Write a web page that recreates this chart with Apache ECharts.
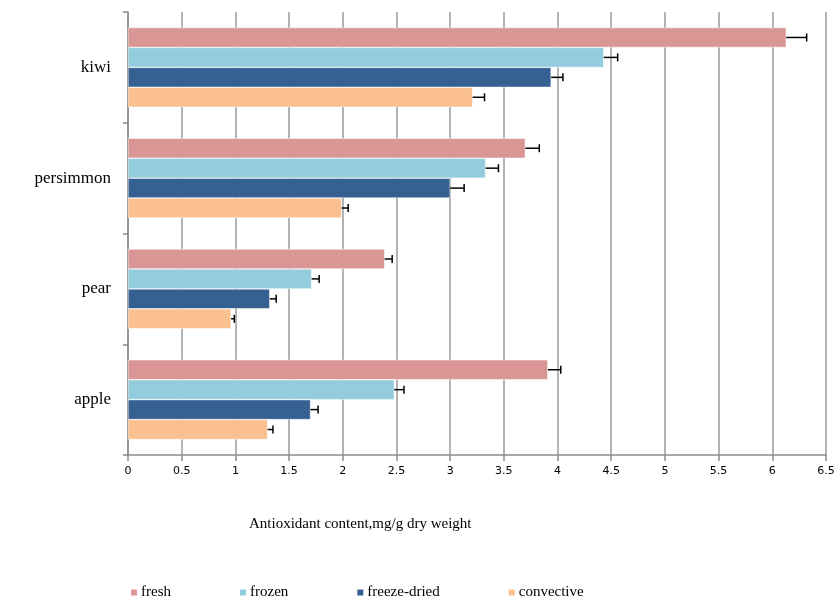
<!DOCTYPE html>
<html>
<head>
<meta charset="utf-8">
<script src="https://cdn.jsdelivr.net/npm/echarts@6/dist/echarts.min.js"></script>
<style>html,body{margin:0;padding:0;background:#fff;}#c{width:838px;height:602px;}</style>
</head>
<body>
<div id="c"></div>
<script>
const categories = ['apple', 'pear', 'persimmon', 'kiwi'];
const seriesNames = ['fresh', 'frozen', 'freeze-dried', 'convective'];
const fresh = [3.91, 2.39, 3.70, 6.13];
const frozen = [2.48, 1.71, 3.33, 4.43];
const freezeDried = [1.70, 1.32, 3.00, 3.94];
const convective = [1.30, 0.96, 1.99, 3.21];
const freshErr = [0.12, 0.07, 0.13, 0.19];
const frozenErr = [0.09, 0.07, 0.12, 0.13];
const freezeDriedErr = [0.07, 0.06, 0.13, 0.11];
const convectiveErr = [0.05, 0.03, 0.06, 0.11];
const xTicks = [0, 0.5, 1, 1.5, 2, 2.5, 3, 3.5, 4, 4.5, 5, 5.5, 6, 6.5];
const colors = ['#D99694', '#93CDDD', '#366092', '#FAC090'];

const values = [fresh, frozen, freezeDried, convective];
const errs = [freshErr, frozenErr, freezeDriedErr, convectiveErr];
const catGap = 0.28;

const chart = echarts.init(document.getElementById('c'), null, {renderer: 'canvas'});

const barSeries = seriesNames.map((n, i) => ({
  name: n, type: 'bar', data: values[i],
  barGap: '0%', barCategoryGap: (catGap * 100) + '%',
  itemStyle: {color: colors[i], borderColor: '#fff', borderWidth: 0.5}, z: 2
}));

const errSeries = seriesNames.map((n, i) => ({
  type: 'custom', name: n + '-err', z: 5, silent: true,
  data: values[i].map((v, k) => [k, v, v + errs[i][k]]),
  encode: {y: 0, x: [1, 2]},
  renderItem: function (params, api) {
    const cat = api.value(0);
    const p0 = api.coord([api.value(1), cat]);
    const p1 = api.coord([api.value(2), cat]);
    const band = api.size([0, 1])[1];
    const bh = band * (1 - catGap) / 4;
    const off = (i - 1.5) * bh;
    const y = p0[1] + off;
    const st = {stroke: '#000', lineWidth: 1.5};
    return {type: 'group', children: [
      {type: 'line', shape: {x1: p0[0], y1: y, x2: p1[0], y2: y}, style: st},
      {type: 'line', shape: {x1: p1[0], y1: y - 4, x2: p1[0], y2: y + 4}, style: st}
    ]};
  }
}));

chart.setOption({
  animation: false,
  backgroundColor: '#fff',
  grid: {left: 128, right: 12, top: 12, bottom: 147},
  title: {
    text: 'Antioxidant content,mg/g dry weight', left: 244, top: 512,
    textStyle: {fontFamily: 'Liberation Serif', fontSize: 15, fontWeight: 'normal', color: '#000'}
  },
  legend: {
    data: seriesNames, left: 124, top: 580, itemWidth: 8, itemHeight: 8, itemGap: 67,
    icon: 'rect',
    textStyle: {fontFamily: 'Liberation Serif', fontSize: 15, color: '#000', padding: [0, 0, 0, -2]}
  },
  xAxis: {
    type: 'value', min: 0, max: 6.5, interval: 0.5,
    axisLine: {show: true, lineStyle: {color: '#8c8c8c', width: 1.5}},
    axisTick: {show: true, length: 6, lineStyle: {color: '#8c8c8c', width: 1.5}},
    axisLabel: {fontFamily: 'DejaVu Sans', fontSize: 11, color: '#000', margin: 11,
      formatter: v => String(xTicks.find(t => Math.abs(t - v) < 1e-9) ?? v)},
    splitLine: {show: true, lineStyle: {color: '#9a9a9a', width: 1.5}}
  },
  yAxis: {
    type: 'category', data: categories,
    axisLine: {show: true, lineStyle: {color: '#8c8c8c', width: 1.5}},
    axisTick: {show: true, length: 5, lineStyle: {color: '#8c8c8c', width: 1.5}},
    axisLabel: {fontFamily: 'Liberation Serif', fontSize: 17, color: '#000', margin: 17}
  },
  series: barSeries.concat(errSeries)
});
</script>
</body>
</html>
